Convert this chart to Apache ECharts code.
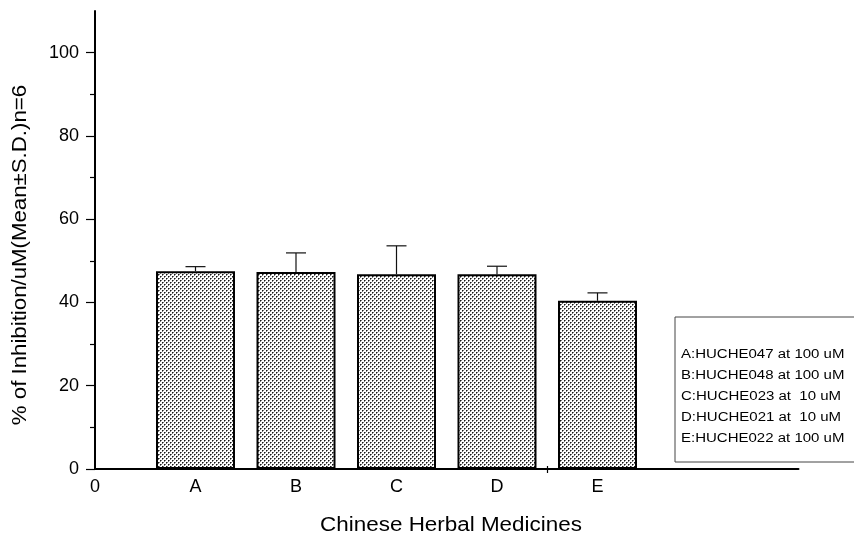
<!DOCTYPE html>
<html>
<head>
<meta charset="utf-8">
<script src="https://cdn.jsdelivr.net/npm/echarts@6/dist/echarts.min.js"></script>
<style>
  html, body { margin: 0; padding: 0; background: #fff; }
  #chart { width: 854px; height: 542px; }
</style>
</head>
<body>
<div id="chart"></div>
<script>
// Inhibition by five herbal extracts, mean and upper S.D. (n = 6)
const categories = ['A', 'B', 'C', 'D', 'E'];
const positions = [1, 2, 3, 4, 5];
const meanInhibition = [47.5, 47.3, 46.8, 46.8, 40.4];
const sdInhibition = [1.1, 4.6, 6.8, 1.9, 1.9];

// Axis ticks and labels
const yMajorTicks = [0, 20, 40, 60, 80, 100];
const yMinorTicks = [10, 30, 50, 70, 90];
const xLabelValues = [0, 1, 2, 3, 4, 5];
const xTickLabels = ['0', 'A', 'B', 'C', 'D', 'E'];
const xExtraTicks = [4.5];

// Key to the letters
const compoundNotes = [
  'A:HUCHE047 at 100 uM',
  'B:HUCHE048 at 100 uM',
  'C:HUCHE023 at  10 uM',
  'D:HUCHE021 at  10 uM',
  'E:HUCHE022 at 100 uM'
];

const FONT = '"Liberation Sans", Arial, Helvetica, sans-serif';

// Dotted fill for the bars: a diagonal lattice of soft dots
function stipple() {
  const c = document.createElement('canvas');
  c.width = 4; c.height = 4;
  const g = c.getContext('2d');
  g.fillStyle = '#ffffff';
  g.fillRect(0, 0, 4, 4);
  g.fillStyle = '#1a1a1a';
  g.fillRect(0, 0, 1, 1); g.fillRect(2, 2, 1, 1);
  g.fillStyle = '#7a7a7a';
  g.fillRect(1, 0, 1, 1); g.fillRect(0, 1, 1, 1);
  g.fillRect(3, 2, 1, 1); g.fillRect(2, 3, 1, 1);
  return c;
}

const barData = positions.map((p, i) => [p, meanInhibition[i]]);
const errData = positions.map((p, i) => [p, meanInhibition[i], meanInhibition[i] + sdInhibition[i]]);

const chart = echarts.init(document.getElementById('chart'), null, { renderer: 'canvas' });

const legendTop = 317, legendLeft = 675, lineStep = 20.8, firstLine = 355;

const option = {
  backgroundColor: '#ffffff',
  animation: false,
  grid: {
    left: 95, top: 11, right: 55.5, bottom: 73,
    containLabel: false,
    outerBoundsMode: 'none'
  },
  xAxis: [
    {
      type: 'value', min: 0, max: 7,
      axisLine: { show: true, onZero: false, lineStyle: { color: '#000', width: 2 } },
      axisTick: { show: true, customValues: xExtraTicks, length: 4, lineStyle: { color: '#000', width: 1.2 } },
      axisLabel: {
        show: true, customValues: xLabelValues, margin: 9,
        color: '#000', fontSize: 18, fontFamily: FONT,
        formatter: v => xTickLabels[xLabelValues.indexOf(v)] ?? ''
      },
      splitLine: { show: false }
    },
    {
      type: 'value', min: 0, max: 7, position: 'bottom',
      axisLine: { show: false },
      axisTick: { show: true, inside: true, customValues: xExtraTicks, length: 3, lineStyle: { color: '#000', width: 1.2 } },
      axisLabel: { show: false },
      splitLine: { show: false }
    }
  ],
  yAxis: [
    {
      type: 'value', min: 0, max: 110,
      axisLine: { show: true, onZero: false, lineStyle: { color: '#000', width: 2 } },
      axisTick: { show: true, customValues: yMajorTicks, length: 9, lineStyle: { color: '#000', width: 1.2 } },
      axisLabel: {
        show: true, customValues: yMajorTicks, margin: 16,
        color: '#000', fontSize: 18, fontFamily: FONT
      },
      splitLine: { show: false }
    },
    {
      type: 'value', min: 0, max: 110, position: 'left',
      axisLine: { show: false },
      axisTick: { show: true, customValues: yMinorTicks, length: 5, lineStyle: { color: '#000', width: 1.2 } },
      axisLabel: { show: false },
      splitLine: { show: false }
    }
  ],
  series: [
    {
      type: 'bar',
      xAxisIndex: 0, yAxisIndex: 0,
      data: barData,
      barWidth: 79,
      itemStyle: {
        color: { image: stipple(), repeat: 'repeat' },
        borderColor: '#000',
        borderWidth: 2
      },
      z: 2
    },
    {
      type: 'custom',
      xAxisIndex: 0, yAxisIndex: 0,
      data: errData,
      z: 3,
      renderItem: (params, api) => {
        const x = api.value(0);
        const p0 = api.coord([x, api.value(1)]);
        const p1 = api.coord([x, api.value(2)]);
        const half = 10;
        const st = { stroke: '#111', lineWidth: 1.2 };
        return {
          type: 'group',
          children: [
            { type: 'line', shape: { x1: p0[0], y1: p0[1], x2: p1[0], y2: p1[1] }, style: st },
            { type: 'line', shape: { x1: p1[0] - half, y1: p1[1], x2: p1[0] + half, y2: p1[1] }, style: st }
          ]
        };
      }
    }
  ],
  graphic: [
    {
      type: 'text', x: 451, y: 525.5, scaleX: 1.15,
      style: {
        text: 'Chinese Herbal Medicines', fill: '#000',
        font: '19.5px ' + FONT, align: 'center', verticalAlign: 'middle'
      }
    },
    {
      type: 'text', x: 20.5, y: 255, rotation: Math.PI / 2, scaleX: 1.14,
      style: {
        text: '% of Inhibition/uM(Mean\u00b1S.D.)n=6', fill: '#000',
        font: '19.5px ' + FONT, align: 'center', verticalAlign: 'middle'
      }
    },
    {
      type: 'rect',
      shape: { x: legendLeft, y: legendTop, width: 200, height: 145 },
      style: { fill: '#fff', stroke: '#444', lineWidth: 1 },
      z: 10
    },
    ...compoundNotes.map((t, i) => ({
      type: 'text', x: 681, y: firstLine + i * lineStep, scaleX: 1.2,
      z: 11,
      style: {
        text: t, fill: '#000', font: '12.5px ' + FONT,
        align: 'left', verticalAlign: 'middle'
      }
    }))
  ]
};

chart.setOption(option);
</script>
</body>
</html>
